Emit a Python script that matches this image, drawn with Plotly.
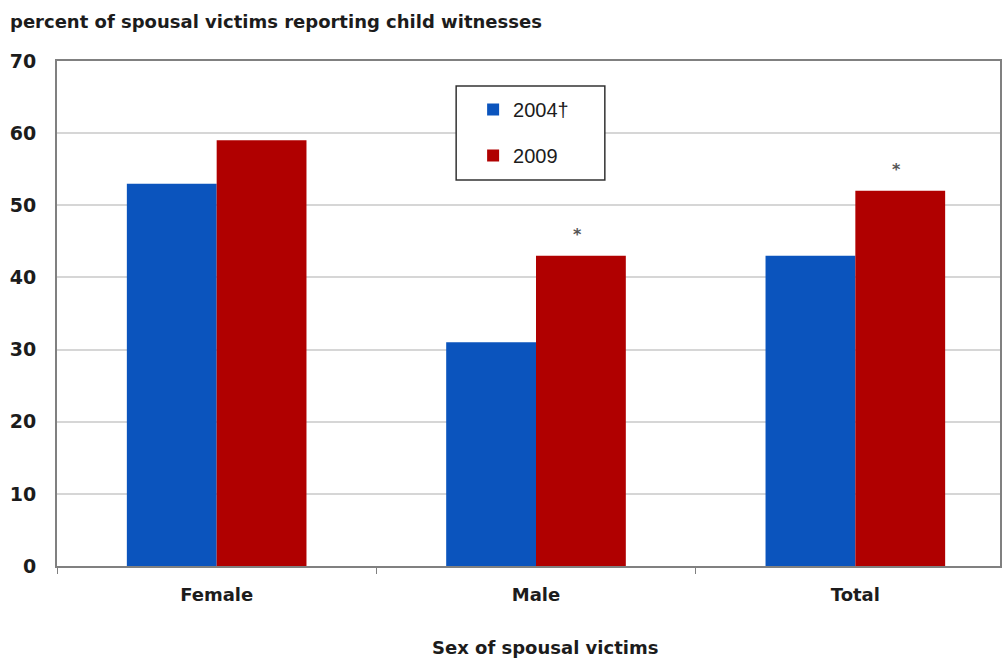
import plotly.graph_objects as go

categories = ["Female", "Male", "Total"]
values_2004 = [53, 31, 43]
values_2009 = [59, 43, 52]
marks_2009 = ["", "*", "*"]
series_names = ["2004\u2020", "2009"]
y_ticks = [0, 10, 20, 30, 40, 50, 60, 70]
x_title = "Sex of spousal victims"
chart_title = "percent of spousal victims reporting child witnesses"

W, H = 1002, 658
L, R, T, B = 57, 0, 61, 92
pw, ph = W - L - R, H - T - B

def px_x(x):
    return (x - L) / pw

def px_y(y):
    return (H - B - y) / ph

TXT = "#1c1c1c"
BOLD = dict(family="DejaVu Sans", weight="bold", color=TXT)

fig = go.Figure()
fig.add_trace(go.Bar(
    x=categories, y=values_2004, name=series_names[0],
    marker=dict(color="#0b54bd", line=dict(width=0)),
    legendgroup="a",
))
fig.add_trace(go.Bar(
    x=categories, y=values_2009, name=series_names[1],
    marker=dict(color="#b00000", line=dict(width=0)),
    legendgroup="b",
))

for cat, val, mark in zip(categories, values_2009, marks_2009):
    if mark:
        fig.add_annotation(
            x=cat, y=val, text=mark, showarrow=False,
            xref="x", yref="y", xshift=41, yshift=21,
            font=dict(size=16, family="DejaVu Sans", weight="bold", color="#555555"),
        )

fig.update_layout(
    width=W, height=H,
    margin=dict(l=L, r=R, t=T, b=B),
    paper_bgcolor="white", plot_bgcolor="white",
    barmode="group", bargap=0.4375, bargroupgap=0,
    font=dict(family="DejaVu Sans", size=13, color=TXT),
    showlegend=True,
    legend=dict(
        x=px_x(474), y=px_y(90), xanchor="left", yanchor="top",
        bgcolor="rgba(0,0,0,0)", borderwidth=0,
        font=dict(size=20, family="Liberation Sans", color=TXT),
        tracegroupgap=17, traceorder="grouped",
    ),
)

fig.update_xaxes(
    type="category", range=[-0.5, 2.453],
    showline=True, linecolor="#808080", linewidth=2, mirror=True,
    ticks="outside", tickson="boundaries", ticklen=6, tickcolor="#808080",
    tickfont=dict(size=18, **BOLD),
    ticklabelstandoff=11,
    showgrid=False,
)
fig.update_yaxes(
    range=[0, 70], tickvals=y_ticks,
    showline=True, linecolor="#808080", linewidth=2, mirror=True,
    showgrid=True, gridcolor="#d6d6d6", gridwidth=2,
    ticks="", ticklabelstandoff=15,
    tickfont=dict(size=19, **BOLD),
    zeroline=False,
)

fig.add_shape(type="rect", xref="paper", yref="paper",
              x0=px_x(457), x1=px_x(606), y0=px_y(180), y1=px_y(86),
              line=dict(color="#333333", width=1.5), fillcolor="white", layer="above")

fig.add_annotation(
    text=chart_title,
    xref="paper", yref="paper", x=px_x(8), y=px_y(22),
    xanchor="left", yanchor="middle", showarrow=False,
    font=dict(size=18, **BOLD),
)
fig.add_annotation(
    text=x_title,
    xref="paper", yref="paper", x=px_x(546), y=px_y(647),
    xanchor="center", yanchor="middle", showarrow=False,
    font=dict(size=18, **BOLD),
)

fig.write_html(
    "out.html",
    config={"displayModeBar": False},
    post_script="document.body.style.margin='0';document.body.style.overflow='hidden';",
)
